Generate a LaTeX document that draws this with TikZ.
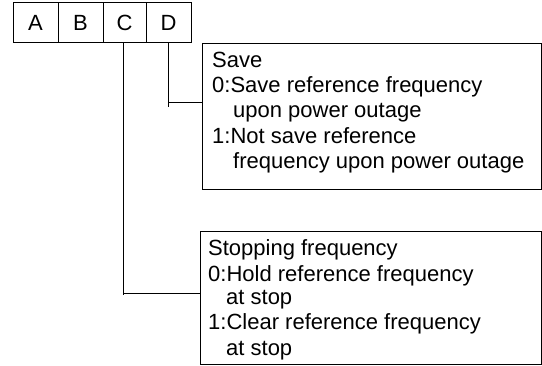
\documentclass[tikz,border=0pt]{standalone}
\usepackage{fontspec}
\setmainfont{Liberation Sans}
\begin{document}
\begin{tikzpicture}[x=1pt,y=1pt,
  cell/.style={draw,line width=1pt,minimum width=44pt,minimum height=40pt,inner sep=0pt,font=\fontsize{22}{25}\selectfont},
  frame/.style={draw,line width=1pt,anchor=north west,inner sep=0pt},
  txt/.style={anchor=base west,inner sep=0pt,font=\fontsize{22}{25}\selectfont},
  wire/.style={line width=1pt}]
\useasboundingbox (0,0) rectangle (542,365);
% cells
\node[cell,minimum width=45pt] (A) at (35.5,342) {A};
\node[cell,minimum width=45pt] (B) at (80.5,342) {B};
\node[cell,minimum width=43pt] (C) at (124.5,342) {C};
\node[cell,minimum width=45pt] (D) at (168.5,342) {D};
% boxes
\node[frame,minimum width=339pt,minimum height=146pt] (save) at (202,322) {};
\node[frame,minimum width=341pt,minimum height=133pt] (stop) at (200,134) {};
% save text
\node[txt] (s1) at (212,297) {Save};
\node[txt] (s2) at (212,272) {0:Save reference frequency};
\node[txt] (s3) at (233,247) {upon power outage};
\node[txt] (s4) at (212,221) {1:Not save reference};
\node[txt] (s5) at (233,196) {frequency upon power outage};
% stop text
\node[txt] (t1) at (208,110) {Stopping frequency};
\node[txt] (t2) at (208,84) {0:Hold reference frequency};
\node[txt] (t3) at (226,60) {at stop};
\node[txt] (t4) at (208,35) {1:Clear reference frequency};
\node[txt] (t5) at (226,10) {at stop};
% connectors
\coordinate (dj) at (168.5,262);
\coordinate (dend) at (168.5,258);
\coordinate (cj) at (123,72);
\coordinate (cend) at (123,70);
\draw[wire] (D.south) -- (dend);
\draw[wire] (dj) -- (dj -| save.west);
\draw[wire] (C.south -| cj) -- (cend);
\draw[wire] (cj) -- (cj -| stop.west);
\end{tikzpicture}
\end{document}
